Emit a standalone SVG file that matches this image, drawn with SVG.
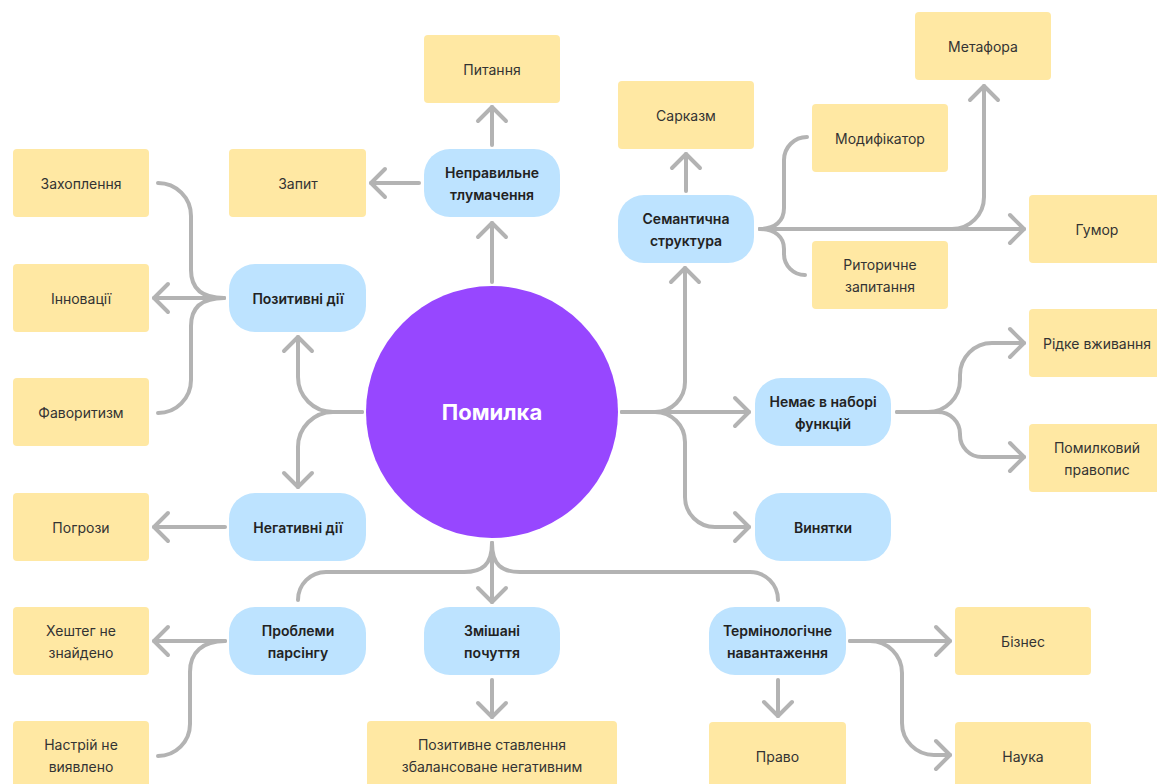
<svg xmlns="http://www.w3.org/2000/svg" width="1157" height="784" viewBox="0 0 1157 784">
<style>
.y{fill:#FFE8A3}
.b{fill:#BDE3FF}
.ty{font-family:Inter,"Noto Sans",sans-serif;font-size:14px;fill:#333333;text-anchor:middle;dominant-baseline:central}
.tb{font-family:Inter,"Noto Sans",sans-serif;font-size:14px;font-weight:600;fill:#222222;text-anchor:middle;dominant-baseline:central}
.c{fill:none;stroke:#B3B3B3;stroke-width:4;stroke-linecap:round;stroke-linejoin:round}
</style>
<defs>
<marker id="a" markerUnits="userSpaceOnUse" markerWidth="22" markerHeight="34" viewBox="0 0 22 34" refX="17" refY="17" orient="auto" overflow="visible">
<path d="M3,3 L17,17 L3,31" fill="none" stroke="#B3B3B3" stroke-width="4" stroke-linecap="round" stroke-linejoin="round"/>
</marker>
</defs>
<rect width="1157" height="784" fill="#ffffff"/>
<g id="connectors">
<path class="c" d="M492,282 V223" marker-end="url(#a)"/>
<path class="c" d="M492,145 V107" marker-end="url(#a)"/>
<path class="c" d="M419,183 H371" marker-end="url(#a)"/>
<path class="c" d="M362,412 H333 A35,35 0 0 1 298,377 V337" marker-end="url(#a)"/>
<path class="c" d="M362,412 H333 A35,35 0 0 0 298,447 V487" marker-end="url(#a)"/>
<path class="c" d="M224,298 H154" marker-end="url(#a)"/>
<path class="c" d="M224,298 C204,298 191,290 191,270 V216 A33,33 0 0 0 158,183"/>
<path class="c" d="M224,298 C204,298 191,306 191,326 V380 A33,33 0 0 1 158,413"/>
<path class="c" d="M225,527 H154" marker-end="url(#a)"/>
<path class="c" d="M492,543 C492,565 482,572 464,572 H326 A28,28 0 0 0 298,600"/>
<path class="c" d="M492,543 C492,565 502,572 520,572 H750 A28,28 0 0 1 778,600"/>
<path class="c" d="M492,543 V602" marker-end="url(#a)"/>
<path class="c" d="M492,680 V717" marker-end="url(#a)"/>
<path class="c" d="M225,641 H154" marker-end="url(#a)"/>
<path class="c" d="M225,641 C203,641 190,652 190,672 V724 A32,32 0 0 1 158,756"/>
<path class="c" d="M622,412 H655 A30,30 0 0 0 685,382 V268" marker-end="url(#a)"/>
<path class="c" d="M622,412 H749" marker-end="url(#a)"/>
<path class="c" d="M622,412 H655 A30,30 0 0 1 685,442 V497 A30,30 0 0 0 715,527 H749" marker-end="url(#a)"/>
<path class="c" d="M686,191 V154" marker-end="url(#a)"/>
<path class="c" d="M760,229 H1024" marker-end="url(#a)"/>
<path class="c" d="M760,229 H952 A32,32 0 0 0 984,197 V86" marker-end="url(#a)"/>
<path class="c" d="M760,229 C775,229 784,221 784,208 V160 A23,23 0 0 1 807,137"/>
<path class="c" d="M760,229 C775,229 784,237 784,249 V254 A21,21 0 0 0 805,275"/>
<path class="c" d="M897,412 H928 A32,32 0 0 0 960,380 V375 A32,32 0 0 1 992,343 H1024" marker-end="url(#a)"/>
<path class="c" d="M897,412 H938 A22,22 0 0 1 960,434 V435 A22,22 0 0 0 982,457 H1024" marker-end="url(#a)"/>
<path class="c" d="M850,641 H950" marker-end="url(#a)"/>
<path class="c" d="M850,641 H870 A32,32 0 0 1 902,673 V723 A32,32 0 0 0 934,755 H950" marker-end="url(#a)"/>
<path class="c" d="M778,680 V716" marker-end="url(#a)"/>
</g>
<g id="n-center"><circle cx="492" cy="412" r="126" fill="#9747FF"/><text x="492" y="412" font-family="Inter,'Noto Sans',sans-serif" font-size="22" font-weight="700" fill="#ffffff" text-anchor="middle" dominant-baseline="central">Помилка</text></g>
<g id="n-nepr"><rect class="b" x="424" y="149" width="136" height="68" rx="26"/><text class="tb" x="492" y="172.5">Неправильне</text><text class="tb" x="492" y="194">тлумачення</text></g>
<g id="n-pytannia"><rect class="y" x="424" y="35" width="136" height="68" rx="4"/><text class="ty" x="492" y="69">Питання</text></g>
<g id="n-zapyt"><rect class="y" x="229" y="149" width="137" height="68" rx="4"/><text class="ty" x="298" y="183">Запит</text></g>
<g id="n-pozytyvni"><rect class="b" x="229" y="264" width="137" height="68" rx="26"/><text class="tb" x="298" y="298">Позитивні дії</text></g>
<g id="n-zakhoplennia"><rect class="y" x="13" y="149" width="136" height="68" rx="4"/><text class="ty" x="81" y="183">Захоплення</text></g>
<g id="n-innovatsii"><rect class="y" x="13" y="264" width="136" height="68" rx="4"/><text class="ty" x="81" y="298">Інновації</text></g>
<g id="n-favorytyzm"><rect class="y" x="13" y="378" width="136" height="68" rx="4"/><text class="ty" x="81" y="412">Фаворитизм</text></g>
<g id="n-negatyvni"><rect class="b" x="229" y="493" width="137" height="68" rx="26"/><text class="tb" x="298" y="527">Негативні дії</text></g>
<g id="n-pohrozy"><rect class="y" x="13" y="493" width="136" height="68" rx="4"/><text class="ty" x="81" y="527">Погрози</text></g>
<g id="n-problemy"><rect class="b" x="229" y="607" width="137" height="68" rx="26"/><text class="tb" x="298" y="630.5">Проблеми</text><text class="tb" x="298" y="652">парсінгу</text></g>
<g id="n-kheshteh"><rect class="y" x="13" y="607" width="136" height="68" rx="4"/><text class="ty" x="81" y="630.5">Хештег не</text><text class="ty" x="81" y="652">знайдено</text></g>
<g id="n-nastrii"><rect class="y" x="13" y="721" width="136" height="68" rx="4"/><text class="ty" x="81" y="744.5">Настрій не</text><text class="ty" x="81" y="766">виявлено</text></g>
<g id="n-zmishani"><rect class="b" x="424" y="607" width="136" height="68" rx="26"/><text class="tb" x="492" y="630.5">Змішані</text><text class="tb" x="492" y="652">почуття</text></g>
<g id="n-pozstavlennia"><rect class="y" x="367" y="721" width="250" height="68" rx="4"/><text class="ty" x="492" y="744.5">Позитивне ставлення</text><text class="ty" x="492" y="766">збалансоване негативним</text></g>
<g id="n-semantychna"><rect class="b" x="618" y="195" width="136" height="68" rx="26"/><text class="tb" x="686" y="218.5">Семантична</text><text class="tb" x="686" y="240">структура</text></g>
<g id="n-sarkazm"><rect class="y" x="618" y="81" width="136" height="68" rx="4"/><text class="ty" x="686" y="115">Сарказм</text></g>
<g id="n-metafora"><rect class="y" x="915" y="12" width="136" height="68" rx="4"/><text class="ty" x="983" y="46">Метафора</text></g>
<g id="n-modyfikator"><rect class="y" x="812" y="104" width="136" height="68" rx="4"/><text class="ty" x="880" y="138">Модифікатор</text></g>
<g id="n-humor"><rect class="y" x="1029" y="195" width="136" height="68" rx="4"/><text class="ty" x="1097" y="229">Гумор</text></g>
<g id="n-rytorychne"><rect class="y" x="812" y="241" width="136" height="68" rx="4"/><text class="ty" x="880" y="264.5">Риторичне</text><text class="ty" x="880" y="286">запитання</text></g>
<g id="n-nemaie"><rect class="b" x="755" y="378" width="136" height="68" rx="26"/><text class="tb" x="823" y="401.5">Немає в наборі</text><text class="tb" x="823" y="423">функцій</text></g>
<g id="n-vyniatky"><rect class="b" x="755" y="493" width="136" height="68" rx="26"/><text class="tb" x="823" y="527">Винятки</text></g>
<g id="n-ridke"><rect class="y" x="1029" y="309" width="136" height="68" rx="4"/><text class="ty" x="1097" y="343">Рідке вживання</text></g>
<g id="n-pomylkovyi"><rect class="y" x="1029" y="424" width="136" height="68" rx="4"/><text class="ty" x="1097" y="447.5">Помилковий</text><text class="ty" x="1097" y="469">правопис</text></g>
<g id="n-terminolohichne"><rect class="b" x="709" y="607" width="137" height="68" rx="26"/><text class="tb" x="777.5" y="630.5">Термінологічне</text><text class="tb" x="777.5" y="652">навантаження</text></g>
<g id="n-biznes"><rect class="y" x="955" y="607" width="136" height="68" rx="4"/><text class="ty" x="1023" y="641">Бізнес</text></g>
<g id="n-pravo"><rect class="y" x="709" y="722" width="137" height="68" rx="4"/><text class="ty" x="777.5" y="756">Право</text></g>
<g id="n-nauka"><rect class="y" x="955" y="722" width="136" height="68" rx="4"/><text class="ty" x="1023" y="756">Наука</text></g>
</svg>
